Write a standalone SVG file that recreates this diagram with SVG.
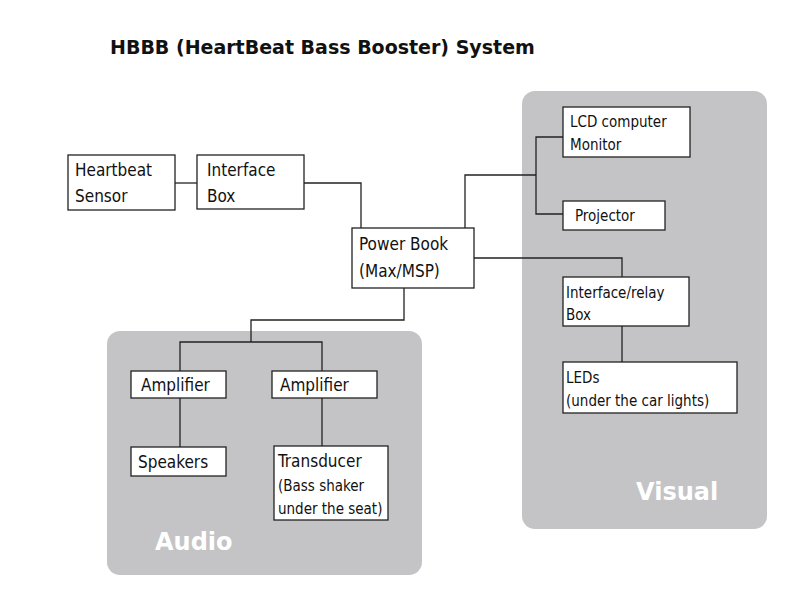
<svg xmlns="http://www.w3.org/2000/svg" width="800" height="600" viewBox="0 0 800 600">
<style>
.panel{fill:#c4c4c6}
.box{fill:#fff;stroke:#222;stroke-width:1.3}
.t{font-family:"DejaVu Sans Condensed","Liberation Sans",sans-serif;font-size:17px;fill:#111}
.s{font-size:15px}
.pl{font-family:"DejaVu Sans","Liberation Sans",sans-serif;font-weight:bold;font-size:24px;fill:#fff}
#connectors path{fill:none;stroke:#222;stroke-width:1.3}
</style>
<rect width="800" height="600" fill="#fff"/>
<text x="110" y="54" font-family="DejaVu Sans,Liberation Sans,sans-serif" font-weight="bold" font-size="19" fill="#111">HBBB (HeartBeat Bass Booster) System</text>
<g id="panel-audio"><rect class="panel" x="107" y="331" width="315" height="244" rx="13"/><text class="pl" x="155" y="550">Audio</text></g>
<g id="panel-visual"><rect class="panel" x="522" y="91" width="245" height="438" rx="13"/><text class="pl" x="636" y="500">Visual</text></g>
<g id="connectors">
<path d="M175,183H197"/>
<path d="M304,183H361V228"/>
<path d="M465,228V175H536"/>
<path d="M563,137H536V214H563"/>
<path d="M474,258H622V277"/>
<path d="M622,326V362"/>
<path d="M404,288V320H251V342"/>
<path d="M180,371V342H322V371"/>
<path d="M180,398V447"/>
<path d="M322,398V446"/>
</g>
<g id="heartbeat"><rect class="box" x="68" y="155" width="107" height="55"/><text class="t" x="75" y="176">Heartbeat</text><text class="t" x="75" y="202">Sensor</text></g>
<g id="interface"><rect class="box" x="197" y="155" width="107" height="54"/><text class="t" x="207" y="176">Interface</text><text class="t" x="207" y="202">Box</text></g>
<g id="powerbook"><rect class="box" x="352" y="228" width="122" height="60"/><text class="t" x="359" y="250">Power Book</text><text class="t" x="359" y="277">(Max/MSP)</text></g>
<g id="lcd"><rect class="box" x="563" y="107" width="127" height="50"/><text class="t s" x="570" y="127">LCD computer</text><text class="t s" x="570" y="150">Monitor</text></g>
<g id="projector"><rect class="box" x="563" y="201" width="102" height="29"/><text class="t s" x="575" y="221">Projector</text></g>
<g id="relay"><rect class="box" x="563" y="277" width="126" height="49"/><text class="t s" x="566" y="298">Interface/relay</text><text class="t s" x="566" y="320">Box</text></g>
<g id="leds"><rect class="box" x="563" y="362" width="174" height="51"/><text class="t s" x="566" y="383">LEDs</text><text class="t s" x="566" y="406">(under the car lights)</text></g>
<g id="amp1"><rect class="box" x="131" y="371" width="95" height="27"/><text class="t" x="141" y="391">Amplifier</text></g>
<g id="amp2"><rect class="box" x="272" y="371" width="105" height="27"/><text class="t" x="280" y="391">Amplifier</text></g>
<g id="speakers"><rect class="box" x="131" y="447" width="95" height="29"/><text class="t" x="138" y="468">Speakers</text></g>
<g id="transducer"><rect class="box" x="274" y="446" width="114" height="74"/><text class="t" x="278" y="467">Transducer</text><text class="t s" x="278" y="491">(Bass shaker</text><text class="t s" x="278" y="514">under the seat)</text></g>
</svg>
